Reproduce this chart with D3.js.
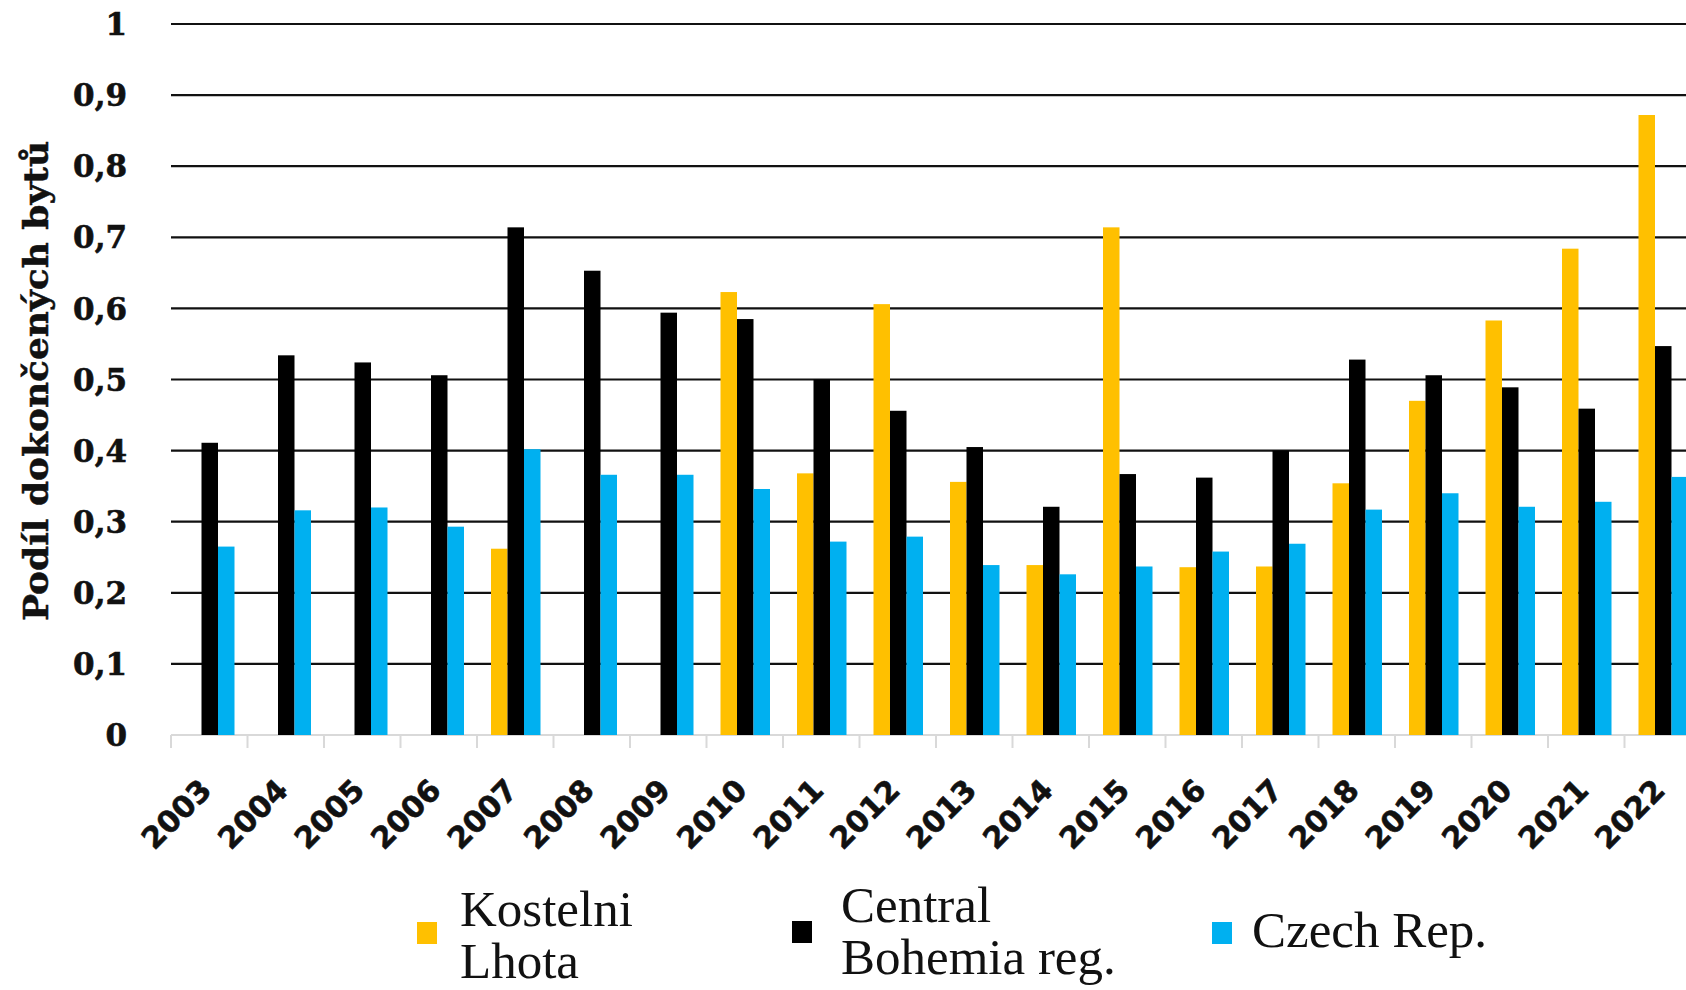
<!DOCTYPE html>
<html>
<head>
<meta charset="utf-8">
<script src="https://cdn.jsdelivr.net/npm/d3@7/dist/d3.min.js"></script>
<style>
  html, body { margin: 0; padding: 0; background: #fff; overflow: hidden; }
  svg { display: block; }
</style>
</head>
<body>
<svg id="chart" width="1686" height="990"></svg>
<script>
const years = ["2003","2004","2005","2006","2007","2008","2009","2010","2011","2012",
               "2013","2014","2015","2016","2017","2018","2019","2020","2021","2022"];
const kostelniLhota = [null,null,null,null,0.262,null,null,0.623,0.368,0.606,
                       0.356,0.239,0.714,0.236,0.237,0.354,0.470,0.583,0.684,0.872];
const centralBohemia = [0.411,0.534,0.524,0.506,0.714,0.653,0.594,0.585,0.500,0.456,
                        0.405,0.321,0.367,0.362,0.400,0.528,0.506,0.489,0.459,0.547];
const czechRep = [0.265,0.316,0.320,0.293,0.402,0.366,0.366,0.346,0.272,0.279,
                  0.239,0.226,0.237,0.258,0.269,0.317,0.340,0.321,0.328,0.363];
const yTicks = [0,0.1,0.2,0.3,0.4,0.5,0.6,0.7,0.8,0.9,1];
const seriesNames = ["Kostelni Lhota","Central Bohemia reg.","Czech Rep."];
const seriesColors = ["#FFC000","#000000","#00B0F0"];
const seriesValues = [kostelniLhota, centralBohemia, czechRep];
const legendLines = [["Kostelni","Lhota"],["Central","Bohemia reg."],["Czech Rep."]];

const svg = d3.select("#chart");
const plotLeft = 171, band = 76.5;
const x = d3.scaleBand().domain(years).range([plotLeft, plotLeft + band*years.length]).padding(0);
const xs = d3.scaleBand().domain(seriesNames).range([14, 63.5]).padding(0);
const y = d3.scaleLinear().domain([0,1]).range([735,24]);

// gridlines
svg.append("g").selectAll("line").data(yTicks.filter(d => d > 0)).join("line")
  .attr("x1", plotLeft).attr("x2", 1686)
  .attr("y1", d => y(d)).attr("y2", d => y(d))
  .attr("stroke", "#111").attr("stroke-width", 2.2);

// baseline axis (light gray) with ticks at category boundaries
const axisG = svg.append("g");
axisG.append("line").attr("x1", plotLeft).attr("x2", 1686)
  .attr("y1", y(0)).attr("y2", y(0)).attr("stroke", "#d9d9d9").attr("stroke-width", 2);
axisG.selectAll("line.tk").data(years).join("line").attr("class","tk")
  .attr("x1", d => x(d)).attr("x2", d => x(d))
  .attr("y1", y(0)).attr("y2", y(0) + 13)
  .attr("stroke", "#d9d9d9").attr("stroke-width", 2);

// bars
const barData = [];
years.forEach((yr, i) => {
  seriesNames.forEach((s, j) => {
    const v = seriesValues[j][i];
    if (v != null) barData.push({yr, s, v, c: seriesColors[j]});
  });
});
svg.append("g").selectAll("rect").data(barData).join("rect")
  .attr("x", d => x(d.yr) + xs(d.s))
  .attr("width", xs.bandwidth())
  .attr("y", d => y(d.v))
  .attr("height", d => y(0) - y(d.v))
  .attr("fill", d => d.c);

// y tick labels
svg.append("g").selectAll("text").data(yTicks).join("text")
  .attr("x", 127).attr("y", d => y(d)).attr("dy", "0.36em")
  .attr("text-anchor", "end")
  .style("font-family", "'DejaVu Serif', serif").style("font-weight", "bold")
  .style("font-size", "31px").attr("fill", "#111")
  .attr("stroke", "#111").attr("stroke-width", 0.6)
  .text(d => d === 0 ? "0" : d === 1 ? "1" : String(d.toFixed(1)).replace(".", ","));

// y axis title
svg.append("text")
  .attr("transform", "translate(48,381) rotate(-90)")
  .attr("text-anchor", "middle")
  .attr("textLength", 480).attr("lengthAdjust", "spacingAndGlyphs")
  .style("font-family", "'DejaVu Serif', serif").style("font-weight", "bold")
  .style("font-size", "34px").attr("fill", "#111")
  .attr("stroke", "#111").attr("stroke-width", 0.5)
  .text("Podíl dokončených bytů");

// x tick labels
svg.append("g").selectAll("text").data(years).join("text")
  .attr("transform", d => `translate(${x(d) + x.bandwidth()/2 + 4},792) rotate(-45)`)
  .attr("text-anchor", "end")
  .style("font-family", "'DejaVu Sans', sans-serif").style("font-weight", "bold")
  .style("font-size", "30px").attr("fill", "#111")
  .attr("stroke", "#111").attr("stroke-width", 0.6)
  .text(d => d);

// legend
const legendPos = [
  {sx: 417, sy: 922, tx: 460, ty: 926},
  {sx: 792, sy: 921, tx: 841, ty: 922},
  {sx: 1212, sy: 922, tx: 1252, ty: 947}
];
const lg = svg.append("g");
seriesNames.forEach((s, j) => {
  const p = legendPos[j];
  lg.append("rect").attr("x", p.sx).attr("y", p.sy).attr("width", 20).attr("height", 22)
    .attr("fill", seriesColors[j]);
  const t = lg.append("text").attr("x", p.tx).attr("y", p.ty)
    .style("font-family", "'Liberation Serif', serif").style("font-size", "51px")
    .attr("fill", "#111");
  legendLines[j].forEach((line, k) => {
    t.append("tspan").attr("x", p.tx).attr("dy", k === 0 ? 0 : 52).text(line);
  });
});
</script>
</body>
</html>
